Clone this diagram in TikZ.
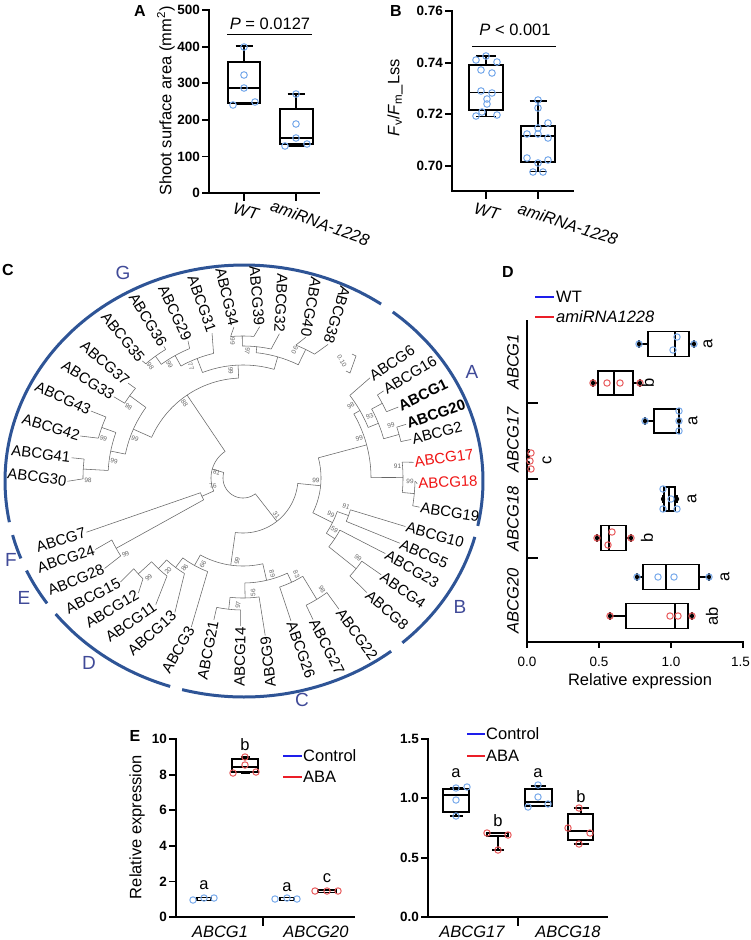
\documentclass[tikz,border=0pt]{standalone}
\usepackage{fontspec}
\setmainfont{Liberation Sans}
\usetikzlibrary{calc}
\definecolor{ptblue}{RGB}{120,170,235}
\definecolor{ptred}{RGB}{232,90,92}
\definecolor{legblue}{RGB}{30,30,235}
\definecolor{legred}{RGB}{235,30,40}
\definecolor{grpc}{RGB}{46,84,150}
\definecolor{grpt}{RGB}{64,74,152}
\definecolor{hlred}{RGB}{240,20,20}
\newcommand\trArc[3]{\draw[br] plot[domain=#2:#3,samples=40] ({243+#1*cos(\x)},{478-#1*sin(\x)});}
\newcommand\trRad[3]{\draw[br] ({243+(#2)*cos(#1)},{478-(#2)*sin(#1)}) -- ({243+(#3)*cos(#1)},{478-(#3)*sin(#1)});}
\newcommand\trLeaf[4]{\draw[br] (#1.#2) -- ({243+(#4)*cos(#3)},{478-(#4)*sin(#3)});}
\newcommand\trBs[4]{\node[bs,rotate=#4] at ({243+(#2-5)*cos(#1+4)},{478-(#2-5)*sin(#1+4)}) {#3};}
% vertical box: xc x1 x2 top bot med wtop wbot capw
\newcommand\boxV[9]{\draw[bxl] (#1,#7)--(#1,#4) (#1,#5)--(#1,#8) ({#1-#9},#7)--({#1+#9},#7) ({#1-#9},#8)--({#1+#9},#8);
 \draw[bxl] (#2,#4) rectangle (#3,#5); \draw[bxl] (#2,#6)--(#3,#6);}
% horizontal box: yc x1 x2 med w1 w2 halfh
\newcommand\boxH[7]{\draw[bxD] (#5,#1)--(#2,#1) (#3,#1)--(#6,#1) (#5,{#1-4})--(#5,{#1+4}) (#6,{#1-4})--(#6,{#1+4});
 \draw[bxD] (#2,{#1-#7}) rectangle (#3,{#1+#7}); \draw[bxD] (#4,{#1-#7})--(#4,{#1+#7});
 \fill (#5,#1) circle[radius=2.2pt]; \fill (#6,#1) circle[radius=2.2pt];}
\begin{document}
\begin{tikzpicture}[x=1pt,y=-1pt,
  br/.style={draw=black!60, line width=0.55pt},
  leaf/.style={font=\fontsize{15}{17}\selectfont, inner sep=1pt},
  bs/.style={font=\fontsize{6.5}{7}\selectfont, text=black!60, inner sep=0pt},
  plab/.style={font=\fontsize{16}{18}\selectfont\bfseries, inner sep=0pt},
  tk/.style={font=\fontsize{13.5}{15}\selectfont\bfseries, inner sep=0pt, anchor=east},
  tkD/.style={font=\fontsize{13.5}{15}\selectfont, inner sep=0pt},
  ax/.style={line width=1.8pt, line cap=rect},
  bxl/.style={line width=1.6pt},
  bxD/.style={line width=1.5pt},
  ptb/.style={draw=ptblue, line width=1pt},
  ptr/.style={draw=ptred, line width=1pt},
  grp/.style={draw=grpc, line width=3pt},
  glab/.style={font=\fontsize{19}{21}\selectfont, text=grpt, inner sep=0pt},
  lab/.style={font=\fontsize{16.5}{18}\selectfont, inner sep=0pt},
  ilab/.style={font=\fontsize{16.5}{18}\selectfont\itshape, inner sep=0pt},
  ]
\useasboundingbox (0,0) rectangle (750,940);
\fill[white] (0,0) rectangle (750,940);

%%%%%%%%%%%%%%%% Panel A
\node[plab] (pA) at (140,11) {A};
\draw[ax] (209,10) -- (209,193) -- (319,193);
\foreach \v/\yy in {500/10,400/46.6,300/83.2,200/119.8,100/156.4,0/193}{
  \draw[ax] (203,\yy)--(209,\yy); \node[tk] (tA\v) at (200,\yy) {\v};}
\draw[ax] (244,193)--(244,200) (296,193)--(296,200);
\boxV{244}{228}{260}{62}{103}{88}{46}{104}{8.5}
\boxV{296}{280}{313}{109}{144}{138}{94}{146}{8.5}
\foreach \px/\py in {244/47,244/75,244/88,233/105,255/102}{\draw[ptb] (\px,\py) circle[radius=3.3pt];}
\foreach \px/\py in {296/94,296/124,296/138,285/146,307/144}{\draw[ptb] (\px,\py) circle[radius=3.3pt];}
\draw[line width=1pt] (227,34)--(312,34);
\node[lab] (pvA) at (270,24) {\textit{P} = 0.0127};
\node[lab,rotate=90] (ylA) at (166,101) {Shoot surface area (mm\textsuperscript{2})};
\node[ilab,rotate=-15] (xA1) at (246,211) {WT};
\node[ilab,rotate=-20] (xA2) at (320,223) {amiRNA-1228};

%%%%%%%%%%%%%%%% Panel B
\node[plab] (pB) at (396,11) {B};
\draw[ax] (452,11) -- (452,191) -- (573,191);
\foreach \v/\yy in {0.76/11,0.74/62.6,0.72/114.2,0.70/165.8}{
  \draw[ax] (446,\yy)--(452,\yy); \node[tk] (tB\yy) at (443,\yy) {\v};}
\draw[ax] (486,191)--(486,198) (538,191)--(538,198);
\boxV{486}{469}{503}{64.7}{109.7}{92.3}{56}{116.3}{10}
\boxV{538}{521}{555}{126}{162}{136}{100.7}{171.3}{8.5}
\foreach \px/\py in {486/56,476/60,497/62,481/70,492/73,481/91,492/93,487/99,487/104,482/112,476/116,497/115}{\draw[ptb] (\px,\py) circle[radius=3.3pt];}
\foreach \px/\py in {538/100,538/108,548/123,538/128,527/134,538/134,548/138,527/158,538/163,548/160,533/172,543/172}{\draw[ptb] (\px,\py) circle[radius=3.3pt];}
\draw[line width=1pt] (472,46.3)--(556,46.3);
\node[lab] (pvB) at (515,30) {\textit{P} < 0.001};
\node[lab,rotate=90] (ylB) at (395,98) {\textit{F}\textsubscript{v}/\textit{F}\textsubscript{m}\_Lss};
\node[ilab,rotate=-15] (xB1) at (487,211) {WT};
\node[ilab,rotate=-18] (xB2) at (568,224) {amiRNA-1228};

%%%%%%%%%%%%%%%% Panel C
\node[plab] (pC) at (8,270) {C};
% group arcs
\draw[grp] plot[domain=55:191,samples=90] ({244+239*cos(\x)},{481-216*sin(\x)});
\draw[grp] plot[domain=194.5:201,samples=10] ({244+239*cos(\x)},{481-216*sin(\x)});
\draw[grp] plot[domain=204.5:214.5,samples=12] ({244+239*cos(\x)},{481-216*sin(\x)});
\draw[grp] plot[domain=218:252,samples=30] ({244+239*cos(\x)},{481-216*sin(\x)});
\draw[grp] plot[domain=255:308,samples=40] ({244+239*cos(\x)},{481-216*sin(\x)});
\draw[grp] plot[domain=311.5:345,samples=30] ({244+239*cos(\x)},{481-216*sin(\x)});
\draw[grp] plot[domain=348:411.5,samples=50] ({244+239*cos(\x)},{481-216*sin(\x)});
\node[glab] (gG) at (123,273) {G};
\node[glab] (gA) at (472,372) {A};
\node[glab] (gB) at (460,607) {B};
\node[glab] (gC) at (302,700) {C};
\node[glab] (gD) at (89,663) {D};
\node[glab] (gE) at (24,598) {E};
\node[glab] (gF) at (11,560) {F};
% leaves G
\node[leaf,rotate=-8] (g30) at (37,477) {ABCG30};
\node[leaf,rotate=-7] (g41) at (41,454) {ABCG41};
\node[leaf,rotate=-17] (g42) at (51,427) {ABCG42};
\node[leaf,rotate=-25] (g43) at (63,398) {ABCG43};
\node[leaf,rotate=-33] (g33) at (88,380) {ABCG33};
\node[leaf,rotate=-41] (g37) at (105,363) {ABCG37};
\node[leaf,rotate=-51] (g35) at (123,337) {ABCG35};
\node[leaf,rotate=-59] (g36) at (148,320) {ABCG36};
\node[leaf,rotate=-65] (g29) at (175,313) {ABCG29};
\node[leaf,rotate=-71] (g31) at (202,304) {ABCG31};
\node[leaf,rotate=-77] (g34) at (227,297) {ABCG34};
\node[leaf,rotate=-85] (g39) at (257,296) {ABCG39};
\node[leaf,rotate=-93] (g32) at (281,303) {ABCG32};
\node[leaf,rotate=-100] (g40) at (311,307) {ABCG40};
\node[leaf,rotate=-107] (g38) at (337,315) {ABCG38};
% leaves A
\node[leaf,rotate=34] (a6) at (392,363) {ABCG6};
\node[leaf,rotate=31] (a16) at (410,375) {ABCG16};
\node[leaf,rotate=26,font=\fontsize{15}{17}\selectfont\bfseries] (a1) at (423,395) {ABCG1};
\node[leaf,rotate=19,font=\fontsize{15}{17}\selectfont\bfseries] (a20) at (436,414) {ABCG20};
\node[leaf,rotate=14] (a2) at (437,433) {ABCG2};
\node[leaf,rotate=8,text=hlred] (a17) at (444,458) {ABCG17};
\node[leaf,rotate=3,text=hlred] (a18) at (448,482) {ABCG18};
\node[leaf,rotate=-9] (a19) at (450,512) {ABCG19};
% leaves B
\node[leaf,rotate=-16] (b10) at (435,535) {ABCG10};
\node[leaf,rotate=-24] (b5) at (424,554) {ABCG5};
\node[leaf,rotate=-30] (b23) at (412,569) {ABCG23};
\node[leaf,rotate=-35] (b4) at (403,590) {ABCG4};
\node[leaf,rotate=-41] (b8) at (387,610) {ABCG8};
\node[leaf,rotate=-54] (b22) at (357,634) {ABCG22};
% leaves C
\node[leaf,rotate=-63] (c27) at (327,647) {ABCG27};
\node[leaf,rotate=-71] (c26) at (301,650) {ABCG26};
\node[leaf,rotate=96] (c9) at (268,662) {ABCG9};
\node[leaf,rotate=89] (c14) at (240,657) {ABCG14};
\node[leaf,rotate=79] (c21) at (208,650) {ABCG21};
\node[leaf,rotate=60] (c3) at (178,650) {ABCG3};
% leaves D E F
\node[leaf,rotate=42] (d13) at (152,633) {ABCG13};
\node[leaf,rotate=35] (d11) at (131,622) {ABCG11};
\node[leaf,rotate=31] (d12) at (112,609) {ABCG12};
\node[leaf,rotate=27] (d15) at (93,596) {ABCG15};
\node[leaf,rotate=22] (e28) at (76,580) {ABCG28};
\node[leaf,rotate=18] (e24) at (66,559) {ABCG24};
\node[leaf,rotate=17] (f7) at (61,540) {ABCG7};
% tree G
\trArc{140}{140.2}{147.7} \trLeaf{g33}{east}{147.7}{140} \trLeaf{g37}{east}{140.2}{140}
\trArc{150}{156}{164.6} \trLeaf{g43}{east}{156}{150} \trLeaf{g42}{east}{164.6}{150}
\trArc{160}{173.2}{180.3} \trLeaf{g41}{east}{173.2}{160} \trLeaf{g30}{east}{180.3}{160}
\trArc{135}{160.3}{176.8} \trRad{160.3}{135}{150} \trRad{176.8}{135}{160}
\trArc{120}{144}{168.5} \trRad{144}{120}{140} \trRad{168.5}{120}{135}
\trArc{150}{121}{130.4} \trLeaf{g35}{east}{130.4}{150} \trLeaf{g36}{east}{121}{150}
\trArc{140}{112.4}{125.7} \trRad{125.7}{140}{150} \trLeaf{g29}{east}{112.4}{140}
\trArc{128}{103.3}{119} \trRad{119}{128}{140} \trLeaf{g31}{east}{103.3}{128}
\trArc{142}{85.6}{95} \trLeaf{g34}{east}{95}{142} \trLeaf{g39}{east}{85.6}{142}
\trArc{132}{77.7}{90.3} \trRad{90.3}{132}{142} \trLeaf{g32}{east}{77.7}{132}
\trArc{143}{60}{68.3} \trLeaf{g40}{east}{68.3}{143} \trLeaf{g38}{east}{60}{143}
\trArc{126}{64}{84} \trRad{84}{126}{132} \trRad{64}{126}{143}
\trArc{113}{74}{111} \trRad{111}{113}{128} \trRad{74}{113}{126}
\trArc{100}{92.5}{156} \trRad{156}{100}{120} \trRad{92.5}{100}{113}
% tree A
\trArc{158}{24.8}{31.7} \trLeaf{a16}{west}{31.7}{158} \trLeaf{a1}{west}{24.8}{158}
\trArc{162}{13}{18.3} \trLeaf{a20}{west}{18.3}{162} \trLeaf{a2}{west}{13}{162}
\trArc{146}{15.6}{28.2} \trRad{28.2}{146}{158} \trRad{15.6}{146}{162}
\trArc{135}{22}{37.7} \trLeaf{a6}{west}{37.7}{135} \trRad{22}{135}{146}
\trArc{172}{-9.3}{-1.1} \trLeaf{a18}{west}{-1.1}{172} \trLeaf{a19}{west}{-9.3}{172}
\trArc{160}{-5.2}{5.7} \trLeaf{a17}{west}{5.7}{160} \trRad{-5.2}{160}{172}
\trArc{128}{0.2}{30} \trRad{30}{128}{135} \trRad{0.2}{128}{160}
% tree B
\trArc{112}{-22.8}{-16.5} \trLeaf{b10}{west}{-16.5}{112} \trLeaf{b5}{west}{-22.8}{112}
\trArc{145}{-42.5}{-35} \trLeaf{b4}{west}{-35}{145} \trLeaf{b8}{west}{-42.5}{145}
\trArc{110}{-38.7}{-28.3} \trLeaf{b23}{west}{-28.3}{110} \trRad{-38.7}{110}{145}
\trArc{100}{-33.5}{-19.6} \trRad{-19.6}{100}{112} \trRad{-33.5}{100}{110}
\trArc{78}{-26.5}{15} \trRad{15}{78}{128} \trRad{-26.5}{78}{100}
% tree C
\trArc{142}{-63.6}{-53.8} \trLeaf{c27}{west}{-63.6}{142} \trLeaf{b22}{west}{-53.8}{142}
\trArc{115}{-71.4}{-58.7} \trLeaf{c26}{west}{-71.4}{115} \trRad{-58.7}{115}{142}
\trArc{132}{-101.5}{-91} \trLeaf{c21}{east}{-101.5}{132} \trLeaf{c14}{east}{-91}{132}
\trArc{120}{-96.2}{-82.3} \trLeaf{c9}{east}{-82.3}{120} \trRad{-96.2}{120}{132}
\trArc{105}{-89}{-65} \trRad{-89}{105}{120} \trRad{-65}{105}{115}
% tree D
\trArc{142}{-140.3}{-134.8} \trLeaf{d15}{east}{-140.3}{142} \trLeaf{d12}{east}{-134.8}{142}
\trArc{124}{-137.5}{-127.8} \trLeaf{d11}{east}{-127.8}{124} \trRad{-137.5}{124}{142}
\trArc{112}{-133}{-121.5} \trLeaf{d13}{east}{-121.5}{112} \trRad{-133}{112}{124}
\trArc{100}{-127}{-110.7} \trLeaf{c3}{east}{-110.7}{100} \trRad{-127}{100}{112}
\trArc{88}{-119}{-77} \trRad{-119}{88}{100} \trRad{-77}{88}{105}
% tree E F
\trArc{145}{-154.7}{-147.5} \trLeaf{e24}{east}{-154.7}{145} \trLeaf{e28}{east}{-147.5}{145}
\trArc{45}{-160.9}{-151} \trLeaf{f7}{east}{-160.9}{45} \trRad{-151}{45}{145}
% root
\trArc{55}{-98}{-5.7} \trRad{-5.7}{55}{78} \trRad{-98}{55}{88}
\trArc{32}{124}{204} \trRad{124}{32}{100} \trRad{204}{32}{45}
\trArc{20}{-196}{-52} \trRad{-196}{20}{32} \trRad{-52}{20}{55}
% bootstrap values
\trBs{144}{140}{98}{-36} \trBs{160.3}{150}{99}{-20} \trBs{176.8}{160}{98}{-3}
\trBs{168.5}{135}{99}{-11} \trBs{156}{120}{99}{-24} \trBs{125.7}{150}{98}{-54}
\trBs{119}{140}{99}{-61} \trBs{111}{128}{77}{-69} \trBs{90.3}{142}{99}{-90}
\trBs{84}{132}{97}{-96} \trBs{64}{143}{90}{-116} \trBs{92.5}{113}{99}{-88}
\trBs{124}{100}{88}{-56}
\trBs{15.6}{162}{99}{16} \trBs{22}{146}{93}{22} \trBs{30}{135}{98}{30}
\trBs{-5.2}{172}{99}{-5} \trBs{0.2}{160}{91}{0} \trBs{15}{128}{99}{15}
\trBs{-19.6}{112}{91}{-20} \trBs{-38.7}{145}{99}{-39} \trBs{-33.5}{110}{59}{-34}
\trBs{-26.5}{100}{99}{-27} \trBs{-5.7}{78}{99}{-6}
\trBs{-58.7}{142}{98}{-59} \trBs{-65}{115}{83}{-65} \trBs{-96.2}{132}{97}{84}
\trBs{-89}{120}{56}{91} \trBs{-77}{105}{89}{-77}
\trBs{-137.5}{142}{99}{43} \trBs{-133}{124}{20}{47} \trBs{-127}{112}{86}{53}
\trBs{-119}{100}{66}{61} \trBs{-98}{88}{99}{82} \trBs{-151}{145}{99}{29}
\trBs{164}{32}{81}{-16} \trBs{-52}{55}{31}{-52} \trBs{-169}{36}{76}{11}
% scale bar
\draw[br] (352,354) -- (356,356) -- (350,373) -- (346,371);
\node[bs,rotate=-60] (scl) at (342,361) {0.10};

%%%%%%%%%%%%%%%% Panel D
\node[plab] (pD) at (508,272) {D};
\draw[legblue,line width=1.3pt] (535,297)--(554,297);
\node[lab,anchor=west] (lgD1) at (556,297) {WT};
\draw[legred,line width=1.3pt] (535,317)--(554,317);
\node[ilab,anchor=west] (lgD2) at (556,317) {amiRNA1228};
\draw[ax,line width=1.5pt] (527,321) -- (527,642) -- (743,642);
\draw[bxD] (527,403)--(538,403) (527,479)--(538,479) (527,558)--(538,558);
\foreach \v/\xx in {0.0/527,0.5/599,1.0/671}{
  \draw[bxD] (\xx,642)--(\xx,648); \node[tkD] (tD\xx) at (\xx,662) {\v};}
\draw[bxD] (743,642)--(743,648);
\node[tkD,anchor=east] (tD743) at (750,662) {1.5};
\node[lab] (xlD) at (640,681) {Relative expression};
\node[ilab,rotate=90] (cD1) at (513,362) {ABCG1};
\node[ilab,rotate=90] (cD2) at (513,440) {ABCG17};
\node[ilab,rotate=90] (cD3) at (513,519) {ABCG18};
\node[ilab,rotate=90] (cD4) at (513,601) {ABCG20};
\boxH{344}{648}{689}{675}{639}{694}{12.5}
\boxH{383}{598}{633}{614}{593}{640}{12}
\boxH{421}{654}{679}{679}{645}{679}{12}
\boxH{499}{664}{675}{669}{663}{677}{12}
\boxH{538}{601}{626}{609}{597}{631}{12.5}
\boxH{577}{643}{699}{666}{637}{709}{12.5}
\boxH{616}{626}{688}{675}{610}{692}{12.5}
\foreach \py in {451,457,463,469}{\fill (528,\py) circle[radius=2.2pt];}
\foreach \px/\py in {639/344,677/337,673/350,694/344, 645/421,679/411,679/421,679/431, 663/489,671/499,677/509,663/509, 637/577,658/577,674/577,709/577}{\draw[ptb] (\px,\py) circle[radius=3.2pt];}
\foreach \px/\py in {593/383,607/383,620/383,640/383, 531/453,530/461,531/469, 597/538,612/532,608/545,631/538, 610/616,670/616,678/616,692/616}{\draw[ptr] (\px,\py) circle[radius=3.2pt];}
\node[lab,rotate=90] (sD1) at (708,344) {a};
\node[lab,rotate=90] (sD2) at (648,383) {b};
\node[lab,rotate=90] (sD3) at (693,421) {a};
\node[lab,rotate=90] (sD4) at (547,460) {c};
\node[lab,rotate=90] (sD5) at (692,499) {a};
\node[lab,rotate=90] (sD6) at (647,538) {b};
\node[lab,rotate=90] (sD7) at (725,577) {a};
\node[lab,rotate=90] (sD8) at (712,616) {ab};

%%%%%%%%%%%%%%%% Panel E left
\node[plab] (pE) at (135,736) {E};
\draw[ax] (176,739) -- (176,917) -- (354,917);
\foreach \v/\yy in {10/739,8/774.6,6/810.2,4/845.8,2/881.4,0/917}{
  \draw[ax] (170,\yy)--(176,\yy); \node[tk] (tE\v) at (167,\yy) {\v};}
\draw[ax] (263,917)--(263,925);
\node[ilab] (xE1) at (220,932) {ABCG1};
\node[ilab] (xE2) at (316,932) {ABCG20};
\node[lab,rotate=90] (ylE) at (137,827) {Relative expression};
\draw[legblue,line width=1.3pt] (283,756)--(302,756);
\node[lab,anchor=west] (lgE1) at (303,756) {Control};
\draw[legred,line width=1.3pt] (283,777)--(302,777);
\node[lab,anchor=west] (lgE2) at (303,777) {ABA};
\draw[bxl] (197,897.5) rectangle (211,900.5);
\draw[bxl] (280,897.5) rectangle (294,900.5);
\draw[bxl] (318,890) rectangle (336,892.5);
\boxV{245}{232}{258}{759}{772}{767}{757}{773}{4.5}
\foreach \px/\py in {193/900,204/898,214/898, 275/899,287/898,297/899}{\draw[ptb] (\px,\py) circle[radius=3.2pt];}
\foreach \px/\py in {233/773,245/765,245/757,256/772, 315/891,327/891,338/891}{\draw[ptr] (\px,\py) circle[radius=3.2pt];}
\node[lab] (sE1) at (204,885) {a};
\node[lab] (sE2) at (245,745) {b};
\node[lab] (sE3) at (287,887) {a};
\node[lab] (sE4) at (327,878) {c};

%%%%%%%%%%%%%%%% Panel E right
\draw[ax] (428,739) -- (428,917) -- (607,917);
\foreach \v/\yy in {1.5/739,1.0/798.3,0.5/857.7,0.0/917}{
  \draw[ax] (422,\yy)--(428,\yy); \node[tk] (tF\yy) at (419,\yy) {\v};}
\draw[ax] (518,917)--(518,925);
\node[ilab] (xF1) at (472,932) {ABCG17};
\node[ilab] (xF2) at (568,932) {ABCG18};
\draw[legblue,line width=1.3pt] (467,734)--(485,734);
\node[lab,anchor=west] (lgF1) at (486,734) {Control};
\draw[legred,line width=1.3pt] (467,756)--(485,756);
\node[lab,anchor=west] (lgF2) at (486,756) {ABA};
\boxV{456}{443}{469}{789}{812}{795}{788}{816}{6.5}
\draw[bxl] (487,833) rectangle (508,836);
\draw[bxl] (498,836)--(498,850) (492,850)--(504,850);
\boxV{538}{525}{552}{789}{806}{802}{786}{806}{7.5}
\boxV{581}{568}{593}{814}{840}{831}{808}{844}{7.5}
\foreach \px/\py in {456/788,467/787,456/800,456/816, 528/807,538/797,548/804,538/785}{\draw[ptb] (\px,\py) circle[radius=3.2pt];}
\foreach \px/\py in {487/833,508/835,498/850, 579/808,568/828,590/833,579/844}{\draw[ptr] (\px,\py) circle[radius=3.2pt];}
\node[lab] (sF1) at (456,773) {a};
\node[lab] (sF2) at (498,821) {b};
\node[lab] (sF3) at (538,773) {a};
\node[lab] (sF4) at (581,797) {b};
\end{tikzpicture}
\end{document}
